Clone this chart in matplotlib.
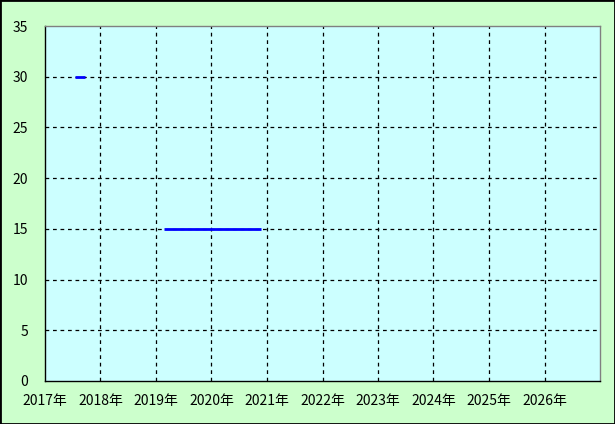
import matplotlib
matplotlib.use("Agg")
import matplotlib.pyplot as plt
import matplotlib.dates as mdates
from matplotlib.patches import Rectangle
import numpy as np

plt.rcParams['font.family'] = ['Noto Sans CJK JP', 'DejaVu Sans']

# data: flat segments (start, end, value)
seg_start = ['2017-07-20', '2019-02-22']
seg_end = ['2017-09-20', '2020-11-20']
seg_value = [30, 15]

years = list(range(2017, 2028))
year_labels = [f"{y}年" for y in range(2017, 2027)] + [""]
y_ticks = [0, 5, 10, 15, 20, 25, 30, 35]

fig = plt.figure(figsize=(6.15, 4.24), dpi=100, facecolor='#CCFFCC')
ax = fig.add_axes([45 / 615, 1 - 381 / 424, 555 / 615, 355 / 424])
ax.set_facecolor('#CCFFFF')

for s, e, v in zip(seg_start, seg_end, seg_value):
    xs = mdates.date2num([np.datetime64(s), np.datetime64(e)])
    ax.plot(xs, [v, v], color='#0000FF', lw=2, solid_capstyle='butt', zorder=3)

xt = mdates.date2num([np.datetime64(f"{y}-01-01") for y in years])
ax.set_xlim(xt[0], xt[-1])
ax.set_ylim(0, 35)
ax.set_xticks(xt)
ax.set_xticklabels(year_labels)
ax.set_yticks(y_ticks)
ax.tick_params(length=0, labelsize=10, colors='black')
ax.tick_params(axis='x', pad=9)
ax.tick_params(axis='y', pad=12)

# dashed grid on interior ticks only
for x in xt[1:-1]:
    ax.axvline(x, color='black', linestyle=(0, (3, 3)), lw=0.9, zorder=1)
for y in y_ticks[1:-1]:
    ax.axhline(y, color='black', linestyle=(0, (3, 3)), lw=0.9, zorder=1)

ax.spines['left'].set_color('black')
ax.spines['bottom'].set_color('black')
ax.spines['top'].set_color('#808080')
ax.spines['right'].set_color('#808080')
for sp in ax.spines.values():
    sp.set_linewidth(1.0)

fig.patches.append(Rectangle((0, 0), 1, 1, transform=fig.transFigure,
                             fill=False, edgecolor='black', lw=2))

fig.savefig('out.png', dpi=100, facecolor=fig.get_facecolor())
